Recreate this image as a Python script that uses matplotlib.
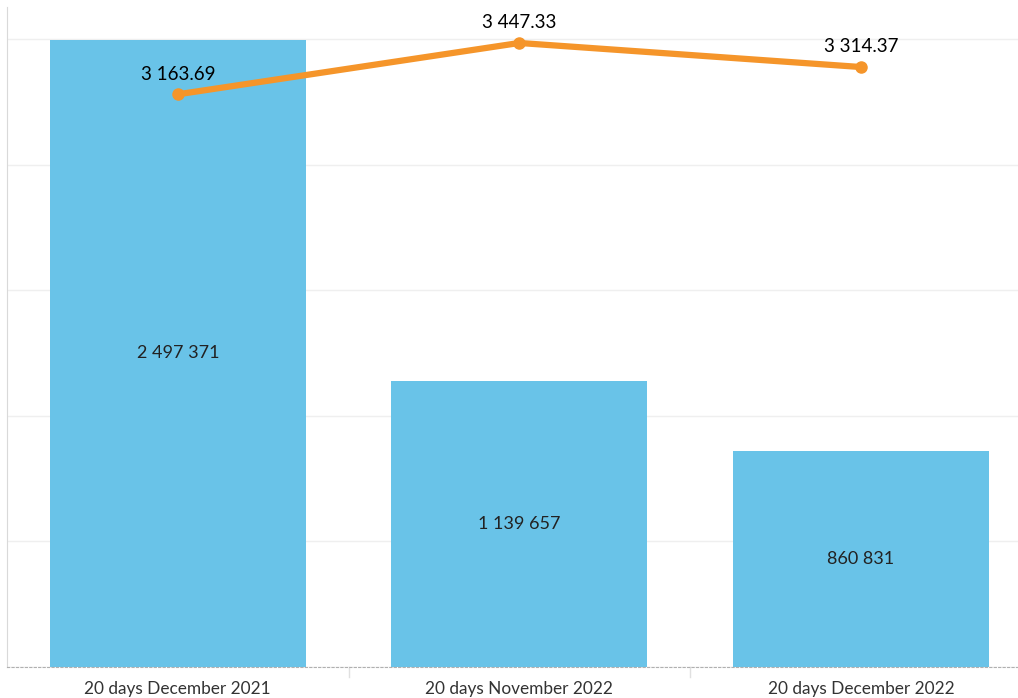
import matplotlib
matplotlib.use("Agg")
import matplotlib.pyplot as plt
from matplotlib.ticker import MultipleLocator

categories = ["20 days December 2021", "20 days November 2022", "20 days December 2022"]
bar_values = [2497371, 1139657, 860831]
line_values = [3163.69, 3447.33, 3314.37]

plt.rcParams['font.family'] = ['Lato', 'DejaVu Sans']

W, H = 1018, 698
fig = plt.figure(figsize=(W / 100, H / 100), dpi=100)
left, right, top, bottom = 7, 1018, 7, 667
ax = fig.add_axes([left / W, 1 - bottom / H, (right - left) / W, (bottom - top) / H])

bar_color = "#69C3E8"
line_color = "#F5952A"

x = list(range(len(categories)))
ax.bar(x, bar_values, width=0.75, color=bar_color, zorder=2)
ax.set_xlim(-0.5, 2.46)
ax.set_ylim(0, 2627000)
ax.yaxis.set_major_locator(MultipleLocator(500000))
ax.grid(axis='y', color='#efefef', linewidth=1, zorder=0)
ax.set_axisbelow(True)
ax.set_xticks(x)
ax.set_xticklabels(categories)
for s in ['top', 'right']:
    ax.spines[s].set_visible(False)
ax.spines['left'].set_color('#d9d9d9')
ax.spines['bottom'].set_color('#b0b0b0')
ax.spines['bottom'].set_linestyle((0, (2, 2)))
ax.spines['bottom'].set_linewidth(0.8)

# category separators below baseline
for sep in [0.5, 1.5]:
    ax.plot([sep, sep], [0, -0.015], transform=ax.get_xaxis_transform(), color='#e0e0e0',
            linewidth=1, clip_on=False)

def fmt_int(v):
    return f"{v:,}".replace(",", " ")

def fmt_dec(v):
    return f"{v:,.2f}".replace(",", " ")

for xi, v in zip(x, bar_values):
    ax.text(xi, v / 2, fmt_int(v), ha='center', va='center', fontsize=13, color='#222222', zorder=3)

ax2 = ax.twinx()
ax2.set_ylim(0, 3646)
ax2.axis('off')
ax2.plot(x, line_values, color=line_color, linewidth=4.5, marker='o', markersize=8,
         solid_capstyle='round', zorder=4)
for xi, v in zip(x, line_values):
    ax2.annotate(fmt_dec(v), (xi, v), xytext=(0, 8.5), textcoords='offset points',
                 ha='center', va='bottom', fontsize=13.5, color='#000000')

ax.tick_params(axis='y', which='both', left=False, right=False, labelleft=False, labelright=False)
ax.tick_params(axis='x', length=0, labelsize=12.4, labelcolor='#333333', pad=10)

fig.savefig("out.png", dpi=100)
